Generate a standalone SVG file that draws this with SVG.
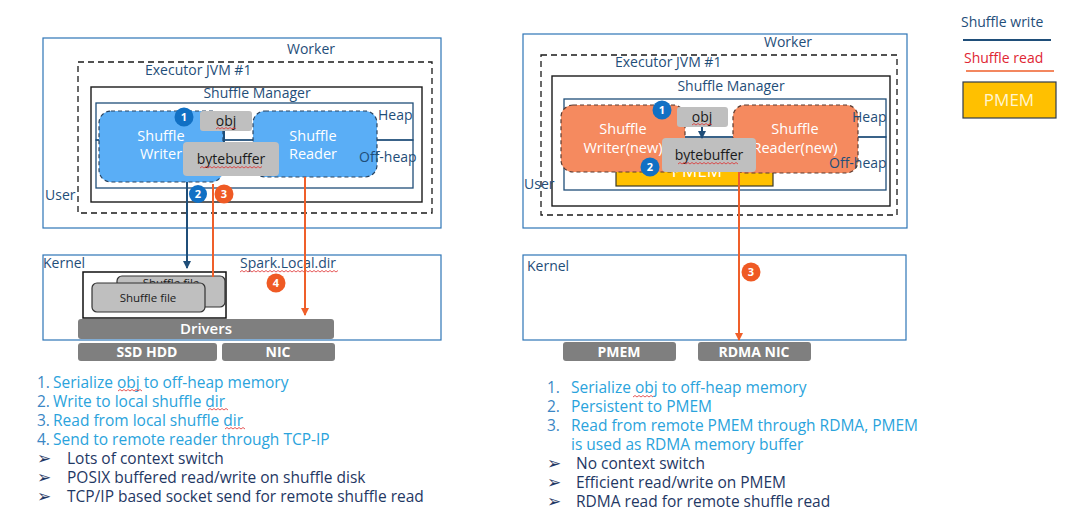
<svg xmlns="http://www.w3.org/2000/svg" width="1091" height="528" viewBox="0 0 1091 528">
<defs>
<marker id="aBlue" markerWidth="8" markerHeight="8" refX="7" refY="4" orient="auto" markerUnits="userSpaceOnUse"><path d="M0,0 L8,4 L0,8 z" fill="#1f4e79"/></marker>
<marker id="aOr" markerWidth="8" markerHeight="8" refX="7" refY="4" orient="auto" markerUnits="userSpaceOnUse"><path d="M0,0 L8,4 L0,8 z" fill="#ef5f2a"/></marker>
</defs>
<style>
text{font-family:"Open Sans","Noto Sans","Liberation Sans",sans-serif}
.lbl{font-size:14px;fill:#1f4e79}
.bb{fill:none;stroke:#2e75b6;stroke-width:1.2}
.dash{fill:none;stroke:#1a1a1a;stroke-width:1.3;stroke-dasharray:6 4}
.solid{fill:none;stroke:#1a1a1a;stroke-width:1.4}
.heap{fill:none;stroke:#1f4e79;stroke-width:1.3}
.gray{fill:#bfbfbf}
.gtxt{font-size:14px;fill:#1a1a1a;text-anchor:middle}
.wr{fill:#5aaef6;stroke:#2a4460;stroke-width:1.2;stroke-dasharray:4 3}
.orb{fill:#f58a5f;stroke:#5a3a30;stroke-width:1.2;stroke-dasharray:4 3}
.wt{font-size:14.5px;fill:#ffffff;text-anchor:middle}
.dk{fill:#7f7f7f}
.dkt{font-size:14px;font-weight:bold;fill:#ffffff;text-anchor:middle}
.cb{fill:#1170c4}
.co{fill:#ef5a24}
.ct{font-size:11px;font-weight:bold;fill:#ffffff;text-anchor:middle}
.wline{stroke:#1f4e79;stroke-width:2;fill:none}
.rline{stroke:#ef5f2a;stroke-width:2;fill:none}
.sq{fill:none;stroke:#e03030;stroke-width:0.8}
.step{font-size:15.5px;fill:#2aa3dc}
.num{font-size:15.5px;fill:#3a86c4}
.bul{font-size:15.5px;fill:#1f3864}
.arw{font-family:"DejaVu Sans",sans-serif;font-size:17px;fill:#1f3864}
.file{fill:#bfbfbf;stroke:#333;stroke-width:1.2}
.ftxt{font-size:11.5px;fill:#1a1a1a;text-anchor:middle}
</style>
<rect width="1091" height="528" fill="#ffffff"/>

<!-- ===== LEFT DIAGRAM ===== -->
<g id="left-worker">
<rect class="bb" x="43" y="38" width="398" height="190"/>
<text class="lbl" x="311" y="54" text-anchor="middle">Worker</text>
</g>
<g id="left-executor">
<rect class="dash" x="78" y="62" width="354" height="151"/>
<text class="lbl" x="145" y="75">Executor JVM #1</text>
</g>
<g id="left-shuffle-manager">
<rect class="solid" x="91" y="87" width="331" height="115"/>
<text class="lbl" x="257" y="98" text-anchor="middle">Shuffle Manager</text>
</g>
<g id="left-heap">
<rect class="heap" x="96" y="103" width="317" height="37"/>
</g>
<g id="left-offheap">
<rect class="heap" x="96" y="140" width="317" height="48"/>
</g>
<g id="left-writer">
<rect class="wr" x="99" y="111" width="124" height="71" rx="12"/>
<text class="wt" x="161" y="141">Shuffle</text>
<text class="wt" x="161" y="159">Writer</text>
</g>
<g id="left-reader">
<rect class="wr" x="253" y="111" width="124" height="66" rx="12"/>
<text class="wt" x="313" y="141">Shuffle</text>
<text class="wt" x="313" y="159">Reader</text>
</g>
<g id="left-region-labels">
<text class="lbl" x="378" y="120">Heap</text>
<text class="lbl" x="359" y="162">Off-heap</text>
<text class="lbl" x="45" y="200">User</text>
</g>
<g id="left-obj">
<rect class="gray" x="200" y="111" width="52" height="20" rx="3"/>
<text class="gtxt" x="226" y="126">obj</text>
<path class="sq" d="M216,129 l2,-1.5 l2,1.5 l2,-1.5 l2,1.5 l2,-1.5 l2,1.5 l2,-1.5 l2,1.5 l2,-1.5 l2,1.5"/>
</g>
<g id="left-bytebuffer">
<rect class="gray" x="183" y="142" width="96" height="34" rx="4"/>
<text class="gtxt" x="231" y="164">bytebuffer</text>
<path class="sq" d="M200,168 l2,-1.5 l2,1.5 l2,-1.5 l2,1.5 l2,-1.5 l2,1.5 l2,-1.5 l2,1.5 l2,-1.5 l2,1.5 l2,-1.5 l2,1.5 l2,-1.5 l2,1.5 l2,-1.5 l2,1.5 l2,-1.5 l2,1.5 l2,-1.5 l2,1.5 l2,-1.5 l2,1.5 l2,-1.5 l2,1.5 l2,-1.5 l2,1.5 l2,-1.5 l2,1.5 l2,-1.5 l2,1.5 l2,-1.5"/>
</g>
<g id="left-kernel">
<rect class="bb" x="43" y="255" width="398" height="85"/>
<text class="lbl" x="43" y="268">Kernel</text>
<text class="lbl" x="240" y="268">Spark.Local.dir</text>
<path class="sq" d="M240,272 l2,-1.5 l2,1.5 l2,-1.5 l2,1.5 l2,-1.5 l2,1.5 l2,-1.5 l2,1.5 l2,-1.5 l2,1.5 l2,-1.5 l2,1.5 l2,-1.5 l2,1.5 l2,-1.5 l2,1.5 l2,-1.5 l2,1.5 l2,-1.5 l2,1.5 l2,-1.5 l2,1.5 l2,-1.5 l2,1.5 l2,-1.5 l2,1.5 l2,-1.5 l2,1.5 l2,-1.5 l2,1.5 l2,-1.5 l2,1.5 l2,-1.5 l2,1.5 l2,-1.5 l2,1.5 l2,-1.5 l2,1.5 l2,-1.5 l2,1.5 l2,-1.5 l2,1.5 l2,-1.5 l2,1.5 l2,-1.5 l2,1.5 l2,-1.5 l2,1.5 l2,-1.5"/>
</g>
<g id="left-shuffle-files">
<rect x="83" y="272" width="143" height="46" fill="#ffffff" stroke="#111" stroke-width="1.5"/>
<rect class="file" x="117" y="276" width="108" height="31" rx="5"/>
<text class="ftxt" x="171" y="287">Shuffle file</text>
<rect class="file" x="92" y="283" width="113" height="29" rx="5"/>
<text class="ftxt" x="148" y="302">Shuffle file</text>
</g>
<g id="left-drivers">
<rect class="dk" x="78" y="319" width="256" height="20" rx="3"/>
<text class="dkt" x="206" y="334" style="font-weight:600;font-size:15px">Drivers</text>
</g>
<g id="left-ssd">
<rect class="dk" x="78" y="343" width="139" height="18" rx="3"/>
<text class="dkt" x="147" y="357">SSD HDD</text>
</g>
<g id="left-nic">
<rect class="dk" x="222" y="343" width="113" height="18" rx="3"/>
<text class="dkt" x="278" y="357">NIC</text>
</g>

<!-- ===== RIGHT DIAGRAM ===== -->
<g id="right-worker">
<rect class="bb" x="523" y="34" width="384" height="194"/>
<text class="lbl" x="788" y="47" text-anchor="middle">Worker</text>
</g>
<g id="right-executor">
<rect class="dash" x="541" y="55" width="356" height="160"/>
<text class="lbl" x="615" y="67">Executor JVM #1</text>
</g>
<g id="right-shuffle-manager">
<rect class="solid" x="552" y="76" width="338" height="130"/>
<text class="lbl" x="731" y="91" text-anchor="middle">Shuffle Manager</text>
</g>
<g id="right-heap">
<rect class="heap" x="564" y="99" width="322" height="38"/>
</g>
<g id="right-offheap">
<rect class="heap" x="564" y="137" width="322" height="53"/>
</g>
<g id="right-pmem">
<rect x="616" y="160" width="157" height="26" fill="#ffc000" stroke="#3a3a2a" stroke-width="1.2"/>
<text class="wt" x="697" y="177" style="font-size:17px">PMEM</text>
</g>
<g id="right-writer">
<rect class="orb" x="561" y="105" width="124" height="67" rx="12"/>
<text class="wt" x="623" y="134">Shuffle</text>
<text class="wt" x="623" y="153">Writer(new)</text>
</g>
<g id="right-reader">
<rect class="orb" x="733" y="105" width="125" height="68" rx="12"/>
<text class="wt" x="795" y="134">Shuffle</text>
<text class="wt" x="795" y="153">Reader(new)</text>
</g>
<g id="right-region-labels">
<text class="lbl" x="852" y="122">Heap</text>
<text class="lbl" x="829" y="168">Off-heap</text>
<text class="lbl" x="524" y="189">User</text>
</g>
<g id="right-obj">
<rect class="gray" x="677" y="107" width="51" height="20" rx="3"/>
<text class="gtxt" x="702" y="122">obj</text>
<path class="sq" d="M692,125 l2,-1.5 l2,1.5 l2,-1.5 l2,1.5 l2,-1.5 l2,1.5 l2,-1.5 l2,1.5 l2,-1.5 l2,1.5"/>
</g>
<g id="right-bytebuffer">
<rect class="gray" x="662" y="138" width="94" height="34" rx="4"/>
<text class="gtxt" x="709" y="160">bytebuffer</text>
<path class="sq" d="M678,164 l2,-1.5 l2,1.5 l2,-1.5 l2,1.5 l2,-1.5 l2,1.5 l2,-1.5 l2,1.5 l2,-1.5 l2,1.5 l2,-1.5 l2,1.5 l2,-1.5 l2,1.5 l2,-1.5 l2,1.5 l2,-1.5 l2,1.5 l2,-1.5 l2,1.5 l2,-1.5 l2,1.5 l2,-1.5 l2,1.5 l2,-1.5 l2,1.5 l2,-1.5 l2,1.5 l2,-1.5 l2,1.5"/>
</g>
<g id="right-kernel">
<rect class="bb" x="523" y="255" width="383" height="85"/>
<text class="lbl" x="527" y="271">Kernel</text>
</g>
<g id="right-pmem-dev">
<rect class="dk" x="563" y="342" width="113" height="19" rx="3"/>
<text class="dkt" x="619" y="357">PMEM</text>
</g>
<g id="right-rdma-nic">
<rect class="dk" x="698" y="342" width="113" height="19" rx="3"/>
<text class="dkt" x="754" y="357">RDMA NIC</text>
</g>

<!-- ===== CONNECTORS ===== -->
<g id="connectors">
<path class="wline" d="M224,131 V142"/>
<path class="wline" d="M187,182 V268" marker-end="url(#aBlue)"/>
<path class="rline" d="M213,184 V277"/>
<path class="rline" d="M305,177 V315" marker-end="url(#aOr)"/>
<path class="wline" d="M702,127 V138" stroke-width="1.6" marker-end="url(#aBlue)"/>
<path class="rline" d="M739,172 V340" marker-end="url(#aOr)"/>
</g>

<!-- ===== STEP BADGES ===== -->
<g id="badge-l1"><circle class="cb" cx="184" cy="117" r="9.5"/><text class="ct" x="184" y="121">1</text></g>
<g id="badge-l2"><circle class="cb" cx="198" cy="194" r="9"/><text class="ct" x="198" y="198">2</text></g>
<g id="badge-l3"><circle class="co" cx="224" cy="194" r="9.5"/><text class="ct" x="224" y="198">3</text></g>
<g id="badge-l4"><circle class="co" cx="276" cy="283" r="9.5"/><text class="ct" x="276" y="287">4</text></g>
<g id="badge-r1"><circle class="cb" cx="662" cy="110" r="9.5"/><text class="ct" x="662" y="114">1</text></g>
<g id="badge-r2"><circle class="cb" cx="650" cy="167" r="9.5"/><text class="ct" x="650" y="171">2</text></g>
<g id="badge-r3"><circle class="co" cx="751" cy="272" r="9.5"/><text class="ct" x="751" y="276">3</text></g>

<!-- ===== LEGEND ===== -->
<g id="legend">
<text x="961" y="27" style="font-size:14px;fill:#1f4e79">Shuffle write</text>
<line x1="963" y1="40" x2="1051" y2="40" stroke="#1f4e79" stroke-width="2"/>
<text x="964" y="63" style="font-size:14px;fill:#e02633">Shuffle read</text>
<line x1="966" y1="71" x2="1054" y2="71" stroke="#ef5f2a" stroke-width="1.5"/>
<rect x="963" y="82" width="93" height="36" fill="#ffc000" stroke="#2f3b4c" stroke-width="1.2"/>
<text x="1009" y="106" text-anchor="middle" style="font-size:17px;fill:#fff5d0">PMEM</text>
</g>

<!-- ===== LEFT NOTES ===== -->
<g id="left-notes">
<text class="num" x="37" y="388">1.</text><text class="step" x="53" y="388">Serialize obj to off-heap memory</text>
<text class="num" x="37" y="407">2.</text><text class="step" x="53" y="407">Write to local shuffle dir</text>
<text class="num" x="37" y="426">3.</text><text class="step" x="53" y="426">Read from local shuffle dir</text>
<text class="num" x="37" y="445">4.</text><text class="step" x="53" y="445">Send to remote reader through TCP-IP</text>
<path class="sq" d="M118,391 l2,-1.5 l2,1.5 l2,-1.5 l2,1.5 l2,-1.5 l2,1.5 l2,-1.5 l2,1.5 l2,-1.5 l2,1.5 l2,-1.5 l2,1.5"/>
<path class="sq" d="M208,410 l2,-1.5 l2,1.5 l2,-1.5 l2,1.5 l2,-1.5 l2,1.5 l2,-1.5 l2,1.5 l2,-1.5 l2,1.5"/>
<path class="sq" d="M225,429 l2,-1.5 l2,1.5 l2,-1.5 l2,1.5 l2,-1.5 l2,1.5 l2,-1.5 l2,1.5 l2,-1.5 l2,1.5"/>
<text class="arw" x="37" y="464">➢</text><text class="bul" x="67" y="464">Lots of context switch</text>
<text class="arw" x="37" y="483">➢</text><text class="bul" x="67" y="483">POSIX buffered read/write on shuffle disk</text>
<text class="arw" x="37" y="502">➢</text><text class="bul" x="67" y="502">TCP/IP based socket send for remote shuffle read</text>
</g>

<!-- ===== RIGHT NOTES ===== -->
<g id="right-notes">
<text class="num" x="547" y="393">1.</text><text class="step" x="571" y="393">Serialize obj to off-heap memory</text>
<path class="sq" d="M633,397 l2,-1.5 l2,1.5 l2,-1.5 l2,1.5 l2,-1.5 l2,1.5 l2,-1.5 l2,1.5 l2,-1.5 l2,1.5"/>
<text class="num" x="547" y="412">2.</text><text class="step" x="571" y="412">Persistent to PMEM</text>
<text class="num" x="547" y="431">3.</text><text class="step" x="571" y="431">Read from remote PMEM through RDMA, PMEM</text>
<text class="step" x="571" y="450">is used as RDMA memory buffer</text>
<text class="arw" x="547" y="469">➢</text><text class="bul" x="576" y="469">No context switch</text>
<text class="arw" x="547" y="488">➢</text><text class="bul" x="576" y="488">Efficient read/write on PMEM</text>
<text class="arw" x="547" y="507">➢</text><text class="bul" x="576" y="507">RDMA read for remote shuffle read</text>
</g>
</svg>
